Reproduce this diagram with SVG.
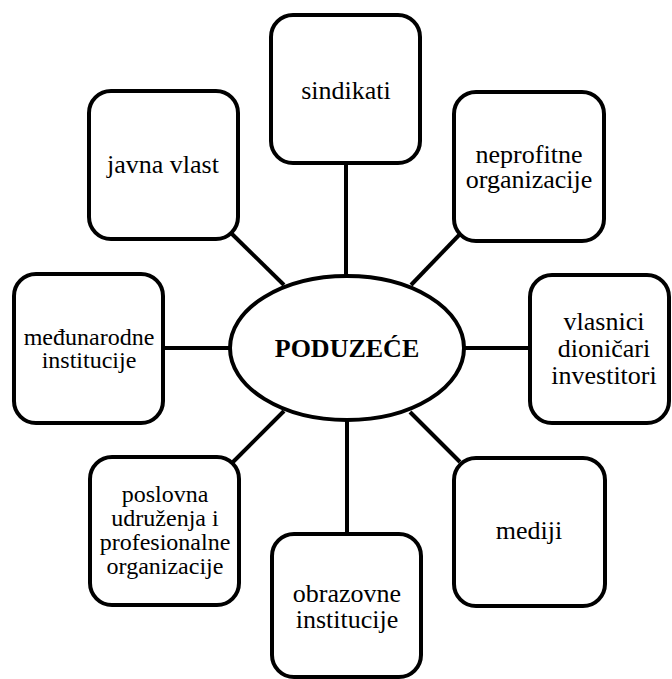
<svg xmlns="http://www.w3.org/2000/svg" width="672" height="679" viewBox="0 0 672 679">
<style>
.box{fill:#fff;stroke:#000;stroke-width:4}
.c line{stroke:#000;stroke-width:4}
</style>
<rect width="672" height="679" fill="#fff"/>
<g class="c" id="connectors">
<line x1="346" y1="162" x2="346" y2="276"/>
<line x1="347" y1="420" x2="347" y2="535"/>
<line x1="162" y1="348" x2="231" y2="348"/>
<line x1="463" y1="348" x2="531" y2="348"/>
<line x1="231" y1="233" x2="284" y2="285"/>
<line x1="462" y1="232" x2="411" y2="285"/>
<line x1="233" y1="462" x2="284" y2="411"/>
<line x1="410" y1="412" x2="460" y2="462"/>
</g>
<g id="center">
<ellipse class="box" cx="347" cy="348" rx="117" ry="72"/>
<text font-family="Liberation Serif" font-size="26" text-anchor="middle" font-weight="bold" x="347" y="357">PODUZEĆE</text>
</g>
<g id="sindikati">
<rect class="box" x="271" y="15" width="149" height="148" rx="22"/>
<text font-family="Liberation Serif" font-size="26" text-anchor="middle" x="346" y="99">sindikati</text>
</g>
<g id="javna-vlast">
<rect class="box" x="89" y="91" width="149" height="148" rx="22"/>
<text font-family="Liberation Serif" font-size="26" text-anchor="middle" x="163" y="173">javna vlast</text>
</g>
<g id="neprofitne">
<rect class="box" x="454" y="92" width="150" height="149" rx="22"/>
<text font-family="Liberation Serif" font-size="26" text-anchor="middle" x="529" y="163">neprofitne</text>
<text font-family="Liberation Serif" font-size="26" text-anchor="middle" x="529" y="188">organizacije</text>
</g>
<g id="medunarodne">
<rect class="box" x="14" y="274" width="149" height="149" rx="22"/>
<text font-family="Liberation Serif" font-size="24" text-anchor="middle" x="89" y="345">međunarodne</text>
<text font-family="Liberation Serif" font-size="24" text-anchor="middle" x="89" y="368">institucije</text>
</g>
<g id="vlasnici">
<rect class="box" x="530" y="275" width="139" height="148" rx="22"/>
<text font-family="Liberation Serif" font-size="26" text-anchor="middle" x="604" y="330">vlasnici</text>
<text font-family="Liberation Serif" font-size="26" text-anchor="middle" x="604" y="357">dioničari</text>
<text font-family="Liberation Serif" font-size="26" text-anchor="middle" x="604" y="384">investitori</text>
</g>
<g id="poslovna">
<rect class="box" x="90" y="457" width="149" height="148" rx="22"/>
<text font-family="Liberation Serif" font-size="24" text-anchor="middle" x="165" y="502">poslovna</text>
<text font-family="Liberation Serif" font-size="24" text-anchor="middle" x="165" y="526">udruženja i</text>
<text font-family="Liberation Serif" font-size="24" text-anchor="middle" x="165" y="550">profesionalne</text>
<text font-family="Liberation Serif" font-size="24" text-anchor="middle" x="165" y="574">organizacije</text>
</g>
<g id="obrazovne">
<rect class="box" x="272" y="534" width="149" height="143" rx="22"/>
<text font-family="Liberation Serif" font-size="26" text-anchor="middle" x="347" y="602">obrazovne</text>
<text font-family="Liberation Serif" font-size="26" text-anchor="middle" x="347" y="628">institucije</text>
</g>
<g id="mediji">
<rect class="box" x="454" y="458" width="151" height="148" rx="22"/>
<text font-family="Liberation Serif" font-size="26" text-anchor="middle" x="529" y="539">mediji</text>
</g>
</svg>
